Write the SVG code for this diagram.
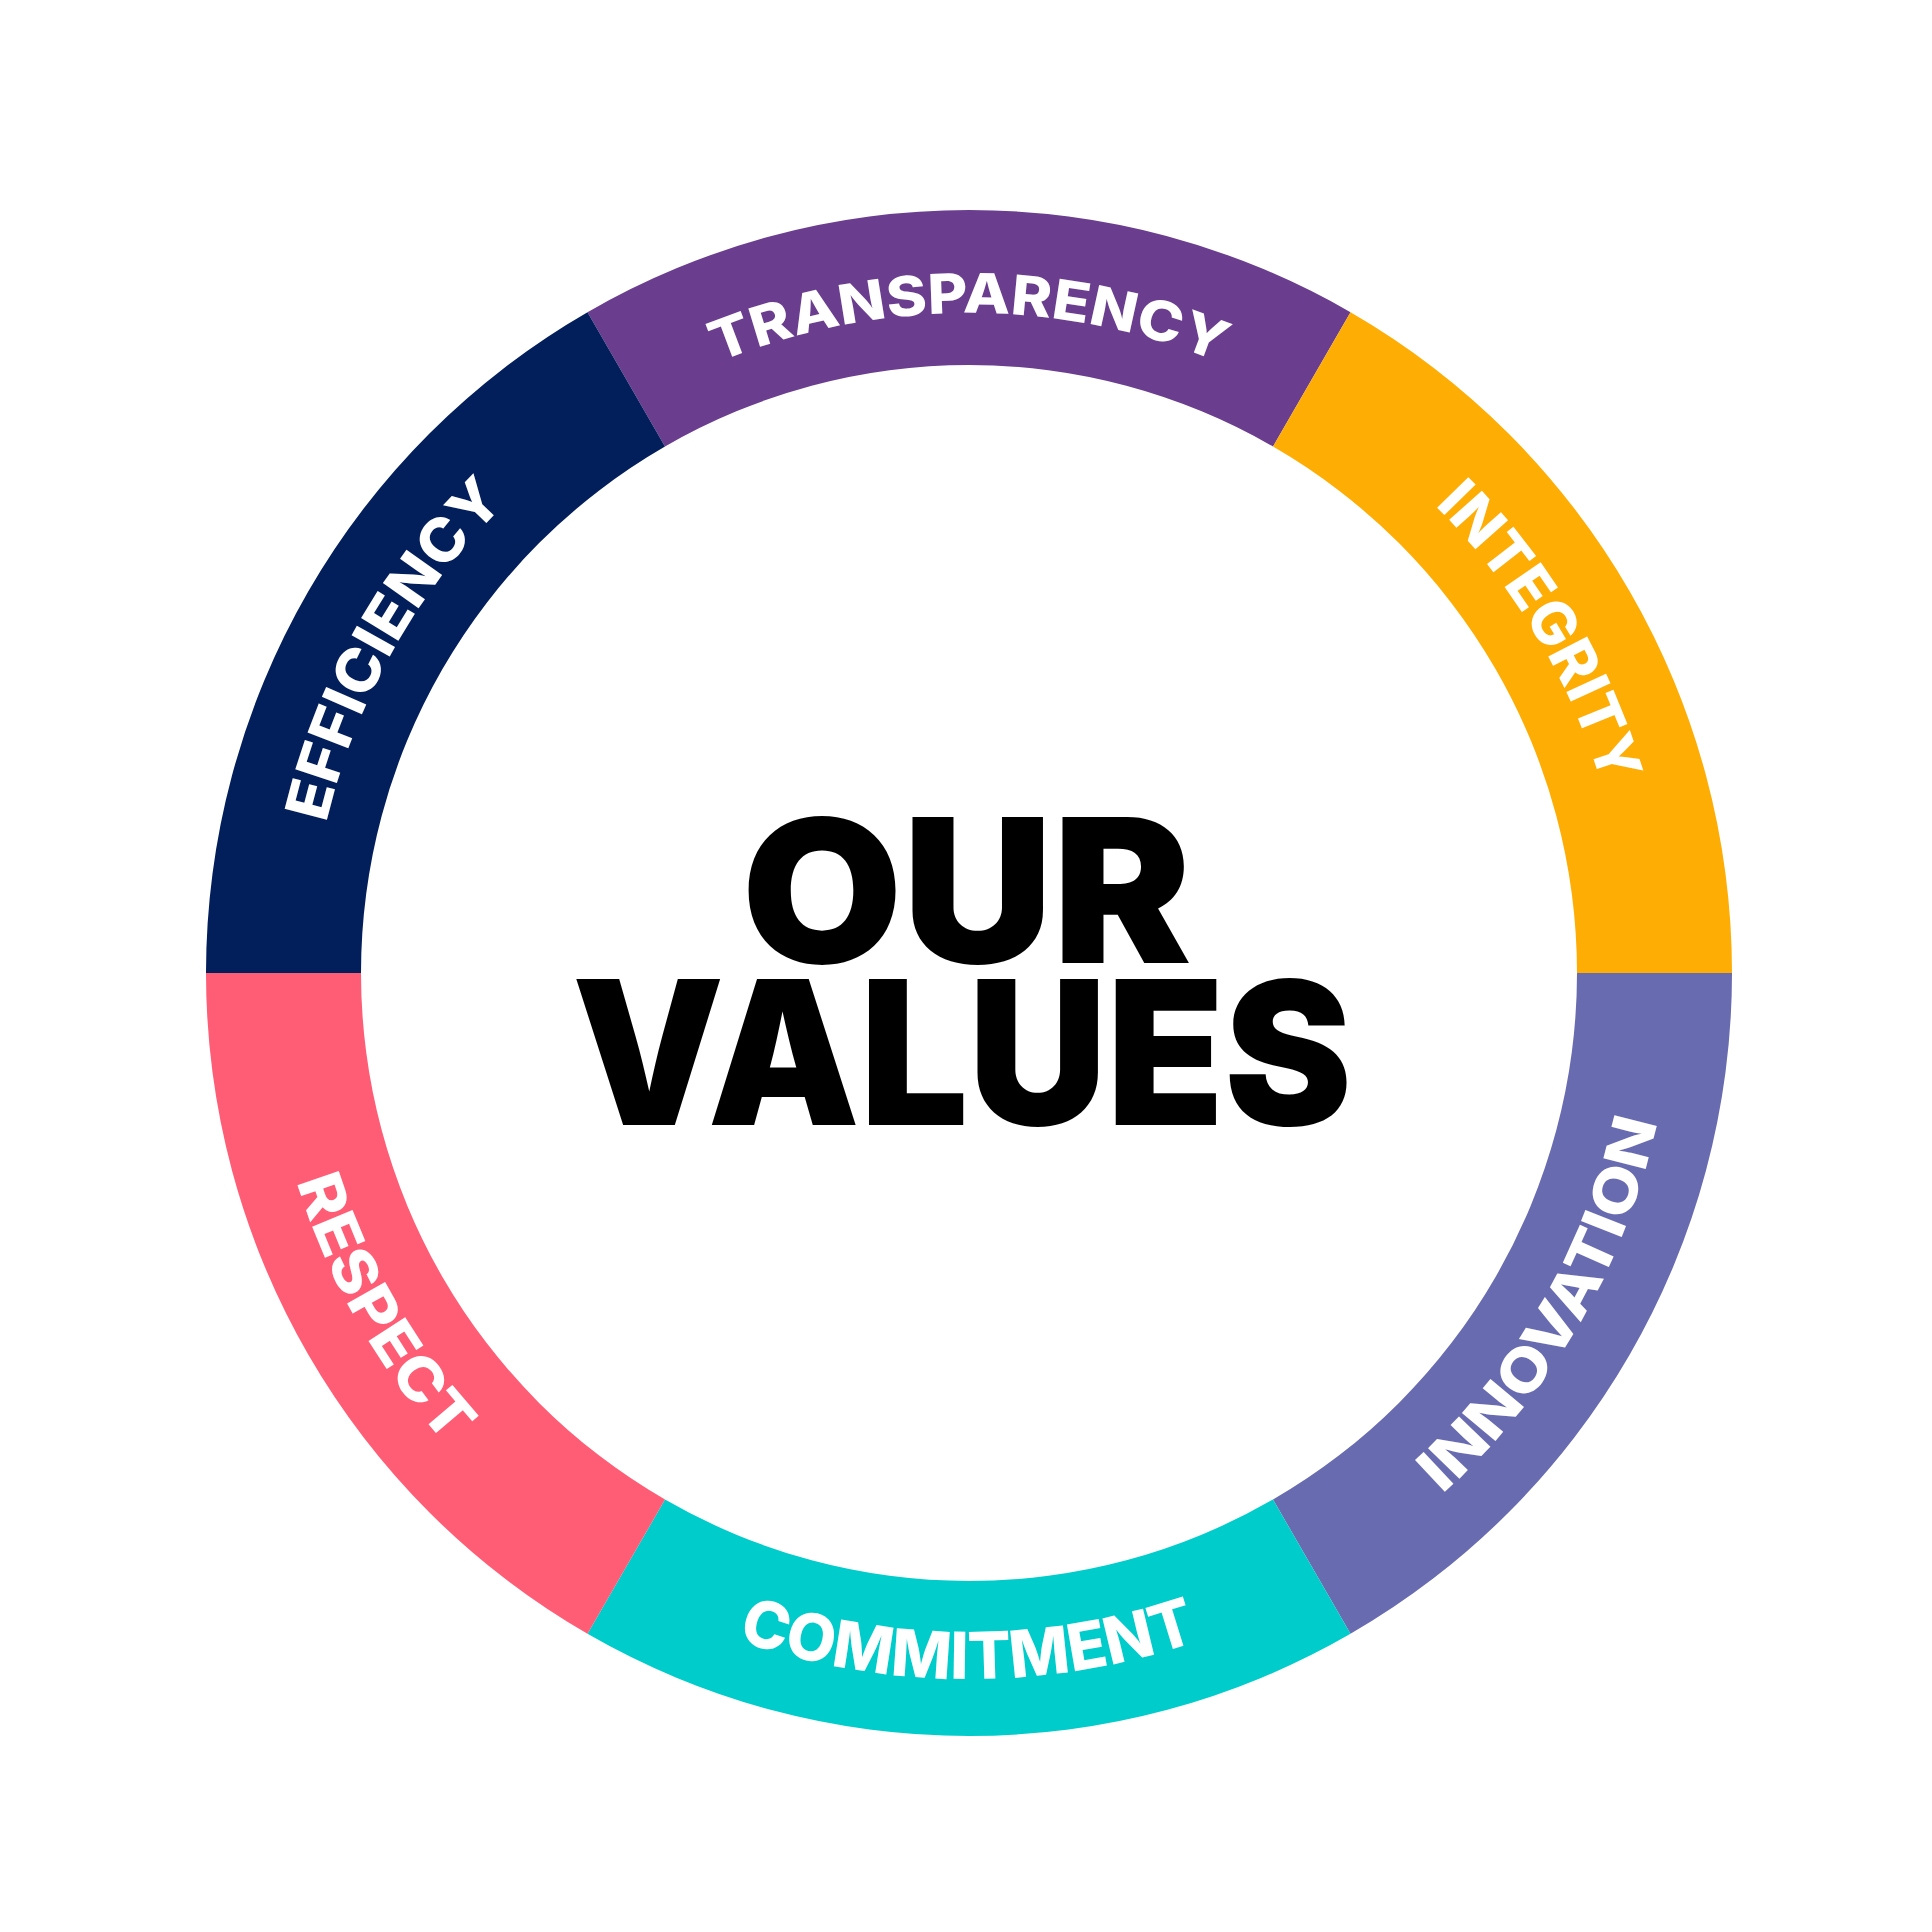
<svg xmlns="http://www.w3.org/2000/svg" xmlns:xlink="http://www.w3.org/1999/xlink" width="1932" height="1932" viewBox="0 0 1932 1932">
  <defs>
    <style>
      .lbl { font-family: Inter, "DejaVu Sans", sans-serif; font-weight: 800; font-size: 60px; fill: #ffffff; }
      .title { font-family: Inter, "DejaVu Sans", sans-serif; font-weight: 900; font-size: 200px; fill: #000000; }
    </style>
    <path id="arcTop660" d="M 397.4 643 A 660 660 0 0 1 1540.6 643" fill="none"/>
    <path id="arcBot704" d="M 359.3 1325 A 704 704 0 0 0 1578.7 1325" fill="none"/>
    <path id="arcBot706" d="M 357.6 1326 A 706 706 0 0 0 1580.4 1326" fill="none"/>
  </defs>
  <rect width="1932" height="1932" fill="#ffffff"/>

  <g id="transparency">
    <path d="M 587.5 312.2 A 763 763 0 0 1 1350.5 312.2 L 1273 446.5 A 608 608 0 0 0 665 446.5 Z" fill="#6A3D8F"/>
    <g transform="rotate(0 969 973)">
      <text class="lbl" style="font-size:55px"><textPath href="#arcTop660" startOffset="50%" text-anchor="middle" textLength="515" lengthAdjust="spacingAndGlyphs">TRANSPARENCY</textPath></text>
    </g>
  </g>

  <g id="integrity">
    <path d="M 1350.5 312.2 A 763 763 0 0 1 1732 973 L 1577 973 A 608 608 0 0 0 1273 446.5 Z" fill="#FEAD05"/>
    <g transform="rotate(59.2 969 973)">
      <text class="lbl"><textPath href="#arcTop660" startOffset="50%" text-anchor="middle" textLength="330" lengthAdjust="spacingAndGlyphs">INTEGRITY</textPath></text>
    </g>
  </g>

  <g id="innovation">
    <path d="M 1732 973 A 763 763 0 0 1 1350.5 1633.8 L 1273 1499.5 A 608 608 0 0 0 1577 973 Z" fill="#686BAF"/>
    <g transform="rotate(-60 969 973)">
      <text class="lbl"><textPath href="#arcBot704" startOffset="50%" text-anchor="middle" textLength="437" lengthAdjust="spacingAndGlyphs">INNOVATION</textPath></text>
    </g>
  </g>

  <g id="commitment">
    <path d="M 1350.5 1633.8 A 763 763 0 0 1 587.5 1633.8 L 665 1499.5 A 608 608 0 0 0 1273 1499.5 Z" fill="#00CCCC"/>
    <g transform="rotate(0.1 969 973)">
      <text class="lbl" style="font-size:65px"><textPath href="#arcBot706" startOffset="50%" text-anchor="middle" textLength="470" lengthAdjust="spacingAndGlyphs">COMMITMENT</textPath></text>
    </g>
  </g>

  <g id="respect">
    <path d="M 587.5 1633.8 A 763 763 0 0 1 206 973 L 361 973 A 608 608 0 0 0 665 1499.5 Z" fill="#FF5C75"/>
    <g transform="rotate(60.3 969 973)">
      <text class="lbl"><textPath href="#arcBot704" startOffset="50%" text-anchor="middle" textLength="306" lengthAdjust="spacingAndGlyphs">RESPECT</textPath></text>
    </g>
  </g>

  <g id="efficiency">
    <path d="M 206 973 A 763 763 0 0 1 587.5 312.2 L 665 446.5 A 608 608 0 0 0 361 973 Z" fill="#031F5B"/>
    <g transform="rotate(-60.7 969 973)">
      <text class="lbl"><textPath href="#arcTop660" startOffset="50%" text-anchor="middle" textLength="373" lengthAdjust="spacingAndGlyphs">EFFICIENCY</textPath></text>
    </g>
  </g>

  <g id="title">
    <text class="title" x="966.5" y="963" text-anchor="middle" textLength="450" lengthAdjust="spacingAndGlyphs">OUR</text>
    <text class="title" x="962" y="1125" text-anchor="middle" textLength="780" lengthAdjust="spacingAndGlyphs">VALUES</text>
  </g>

  <g id="connectors"/>
</svg>
